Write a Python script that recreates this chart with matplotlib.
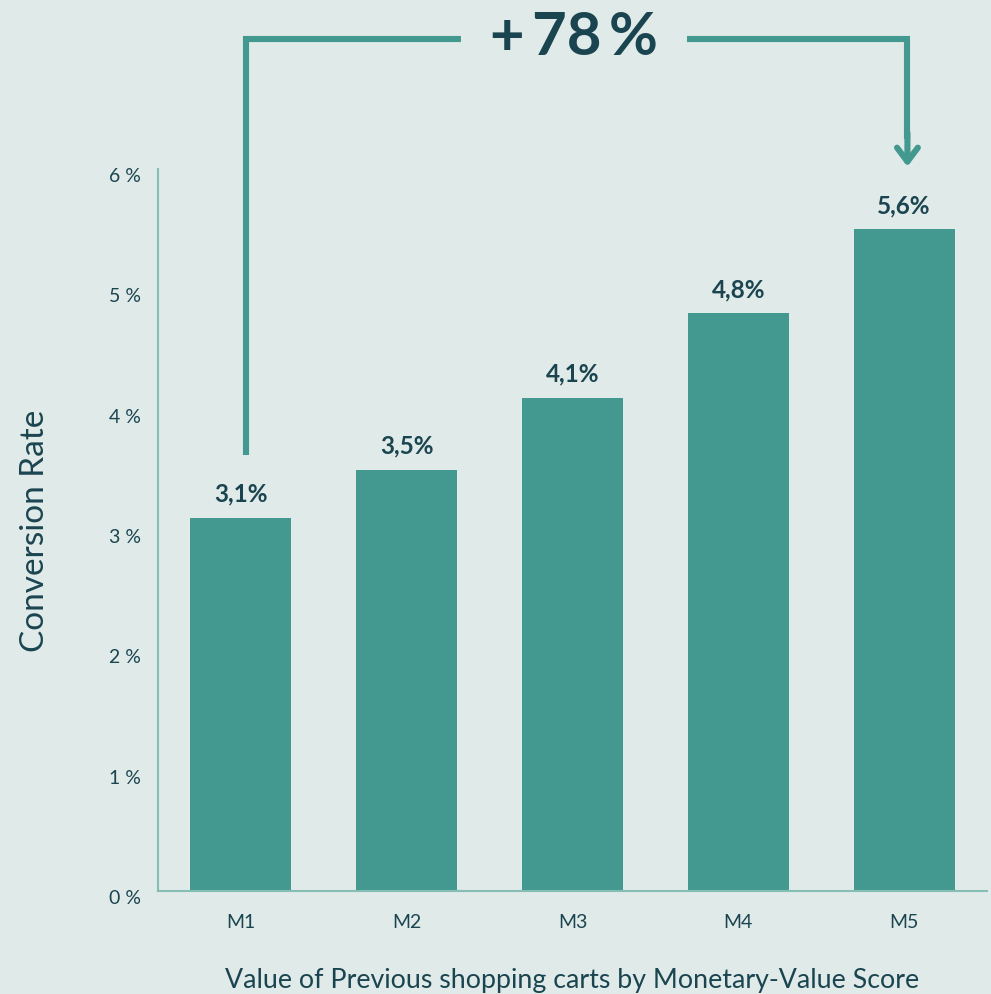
import matplotlib.pyplot as plt
import matplotlib.transforms as mtransforms

categories = ["M1", "M2", "M3", "M4", "M5"]
conversion = [3.1, 3.5, 4.1, 4.8, 5.5]
value_labels = ["3,1%", "3,5%", "4,1%", "4,8%", "5,6%"]
yticks = [0, 1, 2, 3, 4, 5, 6]
uplift_label = "+\u200978\u2009%"

bg = "#e0eae8"
teal = "#43998f"
dark = "#1a4550"
spine_c = "#86bdb5"

plt.rcParams["font.family"] = ["Lato", "DejaVu Sans"]

fig = plt.figure(figsize=(9.91, 9.95), dpi=100, facecolor=bg)
ax = fig.add_axes([0.1594, 0.1035, 0.8366, 0.7256], facecolor=bg)

x = list(range(len(categories)))
ax.bar(x, conversion, width=0.61, color=teal, zorder=2)

# value labels above bars
for i, v in enumerate(conversion):
    ax.text(i, v + 0.11, value_labels[i], ha="center", va="bottom",
            fontsize=17.5, fontweight="bold", color=dark)

ax.set_xlim(-0.5, 4.5)
ax.set_ylim(0, 6)
ax.set_xticks(x)
ax.set_xticklabels(categories)
ax.set_yticks(yticks)
ax.set_yticklabels([f"{t} %" for t in yticks])
ax.tick_params(axis="both", length=0, labelsize=14, colors=dark)
ax.tick_params(axis="x", pad=16)
ax.tick_params(axis="y", pad=12)

# y tick labels sit a little below their gridline position
shift = mtransforms.ScaledTranslation(0, -0.05, fig.dpi_scale_trans)
for lab in ax.get_yticklabels():
    lab.set_transform(lab.get_transform() + shift)

for s in ["top", "right"]:
    ax.spines[s].set_visible(False)
for s in ["left", "bottom"]:
    ax.spines[s].set_color(spine_c)
    ax.spines[s].set_linewidth(1.5)

ax.set_xlabel("Value of Previous shopping carts by Monetary-Value Score",
              fontsize=19.3, color=dark, va="center")
ax.xaxis.set_label_coords(0.5, -0.122)
ax.set_ylabel("Conversion Rate", fontsize=24, color=dark, va="center")
ax.yaxis.set_label_coords(-0.148, 0.5)

# bracket from M1 to M5 with uplift label
top_y = 7.08
lw = 4.4
ax.plot([0.03, 0.03, 1.33], [conversion[0] + 0.52, top_y, top_y], color=teal,
        lw=lw, clip_on=False, solid_joinstyle="miter", solid_capstyle="butt")
ax.plot([2.69, 4.02, 4.02], [top_y, top_y, 6.25], color=teal,
        lw=lw, clip_on=False, solid_joinstyle="miter", solid_capstyle="butt")
ax.annotate("", xy=(4.02, 6.02), xytext=(4.02, 6.3),
            arrowprops=dict(arrowstyle="->,head_length=1.0,head_width=0.75",
                            color=teal, lw=lw, shrinkA=0, shrinkB=0),
            annotation_clip=False)
ax.text(2.01, top_y + 0.02, uplift_label, ha="center", va="center",
        fontsize=43, fontweight="bold", color=dark)

fig.savefig("out.png", dpi=100, facecolor=bg)
